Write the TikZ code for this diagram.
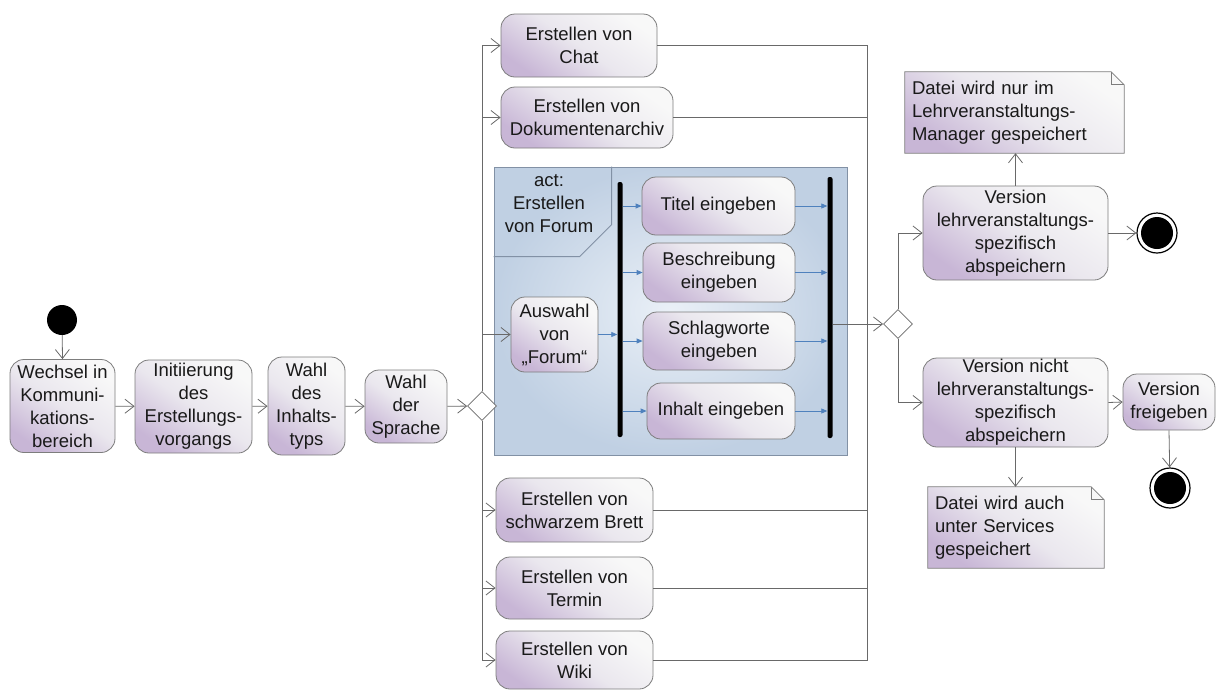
\documentclass[tikz,border=0pt]{standalone}
\usepackage{fontspec}
\setmainfont{Liberation Sans}
\usetikzlibrary{arrows.meta,shapes.geometric}

\definecolor{boxlo}{RGB}{200,182,214}
\definecolor{boxmid}{RGB}{234,231,238}
\definecolor{boxhi}{RGB}{248,248,248}
\definecolor{edge}{RGB}{125,125,125}
\definecolor{wire}{RGB}{105,105,105}
\definecolor{flow}{RGB}{79,129,189}
\definecolor{actin}{RGB}{234,240,247}
\definecolor{actout}{RGB}{192,208,227}
\definecolor{actedge}{RGB}{130,145,165}
\definecolor{ink}{RGB}{25,25,25}

\pgfdeclarelayer{background}
\pgfsetlayers{background,main}

\tikzset{
  txt/.style={text=ink, font=\fontsize{18.5pt}{23pt}\selectfont},
  action/.style={txt, draw=edge, line width=0.8pt, rounded corners=14pt,
    align=center, inner sep=0pt,
    left color=boxlo, right color=boxhi, middle color=boxmid, shading angle=145},
  notebody/.style={txt, align=left, inner xsep=7pt, inner ysep=0pt},
  noteshade/.style={draw=edge, line width=0.8pt,
    left color=boxlo, right color=boxhi, middle color=boxmid, shading angle=145},
  choice/.style={diamond, draw=wire, fill=white, line width=0.8pt,
    minimum width=29pt, minimum height=29pt, inner sep=0pt},
  startdot/.style={circle, fill=black, minimum size=30pt, inner sep=0pt},
  enddot/.style={circle, draw=black, fill=white, line width=1.2pt,
    minimum size=40pt, inner sep=0pt,
    path picture={\fill[black] (path picture bounding box.center) circle (16pt);}},
  syncbar/.style={fill=black, rounded corners=2pt, minimum width=5pt, inner sep=0pt},
  wirearrow/.style={draw=wire, line width=0.8pt, -{Straight Barb[length=9pt,width=14pt,line width=0.8pt]}},
  wireline/.style={draw=wire, line width=0.8pt},
  flowarrow/.style={draw=flow, line width=0.8pt, -{Triangle[length=6pt,width=5pt]}},
}

\begin{document}
\begin{tikzpicture}[x=1pt,y=-1pt]
  \useasboundingbox (0,0) rectangle (1216,689);

  % activity frame for the forum
  \node[draw=actedge, line width=0.8pt, shading=radial, inner color=actin, outer color=actout,
        minimum width=353pt, minimum height=288pt, inner sep=0pt] (act) at (670.5,311) {};
  \draw[actedge, line width=0.8pt] (act.north west) ++(118,0) -- ++(0,58) -- ++(-32,32) -- ++(-86,0);
  \node[txt, align=center] (actlabel) at (549,204) {act:\\Erstellen\\von Forum};

  % main sequence
  \node[startdot] (s) at (62,320) {};
  \node[action, minimum width=105pt, minimum height=93pt] (w1) at (62.5,406) {Wechsel in\\Kommuni-\\kations-\\bereich};
  \node[action, minimum width=117pt, minimum height=93pt] (w2) at (193.5,406.5) {Initiierung\\des\\Erstellungs-\\vorgangs};
  \node[action, minimum width=77pt, minimum height=98pt] (w3) at (306.5,406) {Wahl\\des\\Inhalts-\\typs};
  \node[action, minimum width=82pt, minimum height=73pt] (w4) at (406,406.5) {Wahl\\der\\Sprache};
  \node[choice] (d1) at (482,406) {};

  % content types
  \node[action, minimum width=156pt, minimum height=63pt] (chat) at (579,45.5) {Erstellen von\\Chat};
  \node[action, minimum width=172pt, minimum height=61pt] (dok) at (587,117.5) {Erstellen von\\Dokumentenarchiv};
  \node[action, minimum width=157pt, minimum height=64pt] (brett) at (574.5,510) {Erstellen von\\schwarzem Brett};
  \node[action, minimum width=157pt, minimum height=62pt] (termin) at (574.5,588) {Erstellen von\\Termin};
  \node[action, minimum width=157pt, minimum height=58pt] (wiki) at (574.5,660) {Erstellen von\\Wiki};

  % forum activity
  \node[action, minimum width=87pt, minimum height=75pt] (auswahl) at (554.5,334.5) {Auswahl\\von\\„Forum“};
  \node[syncbar, minimum height=255pt] (fork) at (620,309.5) {};
  \node[syncbar, minimum height=261pt] (join) at (830,307.5) {};
  \node[action, minimum width=153pt, minimum height=58pt] (titel) at (718.5,206) {Titel eingeben};
  \node[action, minimum width=152pt, minimum height=59pt] (beschr) at (719,272.5) {Beschreibung\\eingeben};
  \node[action, minimum width=152pt, minimum height=58pt] (schlag) at (719,341) {Schlagworte\\eingeben};
  \node[action, minimum width=148pt, minimum height=56pt] (inhalt) at (721,411) {Inhalt eingeben};

  % saving
  \coordinate (m) at (867,324);
  \node[choice] (d2) at (898,324) {};
  \node[action, minimum width=185pt, minimum height=94pt] (v1) at (1015.5,233) {Version\\lehrveranstaltungs-\\spezifisch\\abspeichern};
  \node[action, minimum width=185pt, minimum height=89pt] (v2) at (1015.5,402.5) {Version nicht\\lehrveranstaltungs-\\spezifisch\\abspeichern};
  \node[action, minimum width=92pt, minimum height=56pt] (frei) at (1169,402) {Version\\freigeben};
  \node[enddot] (e1) at (1157,233) {};
  \node[enddot] (e2) at (1170,488) {};

  % notes
  \node[notebody, text width=205pt, minimum height=81pt] (note1) at (1014.5,112.5)
    {Datei wird nur im\\Lehrveranstaltungs-\\Manager gespeichert};
  \node[notebody, text width=162pt, minimum height=81pt] (note2) at (1016,527.5)
    {Datei wird auch\\unter Services\\gespeichert};
  \begin{pgfonlayer}{background}
    \foreach \n in {note1,note2}{
      \path[noteshade] (\n.south west) -- (\n.north west) -- ([xshift=-13pt]\n.north east)
        -- ([yshift=-13pt]\n.north east) -- (\n.south east) -- cycle;
      \draw[edge, line width=0.8pt] ([xshift=-13pt]\n.north east) -- ++(0,13) -- ([yshift=-13pt]\n.north east);
    }
  \end{pgfonlayer}

  % connectors of the main sequence
  \draw[wirearrow] (s) -- (w1.north);
  \draw[wirearrow] (w1) -- (w2);
  \draw[wirearrow] (w2) -- (w3);
  \draw[wirearrow] (w3) -- (w4);
  \draw[wirearrow] (w4) -- (d1);

  % decision into the content types
  \draw[wirearrow] (d1.north) |- (chat.west);
  \draw[wirearrow] (d1.north) |- (dok.west);
  \draw[wirearrow] (d1.north) |- (auswahl.west);
  \draw[wirearrow] (d1.south) |- (brett.west);
  \draw[wirearrow] (d1.south) |- (termin.west);
  \draw[wirearrow] (d1.south) |- (wiki.west);

  % forum fork and join
  \draw[flowarrow] (auswahl.east) -- (auswahl.east -| fork.west);
  \foreach \t in {titel,beschr,schlag,inhalt}{
    \draw[flowarrow] (fork.east |- \t.west) -- (\t.west);
    \draw[flowarrow] (\t.east) -- (\t.east -| join.west);
  }

  % merge of all content types
  \foreach \t in {chat,dok,brett,termin,wiki}{
    \draw[wireline] (\t.east) -| (m);
  }
  \draw[wirearrow] (join.east |- d2.west) -- (d2.west);

  % saving variants
  \draw[wirearrow] (d2.north) |- (v1.west);
  \draw[wirearrow] (d2.south) |- (v2.west);
  \draw[wirearrow] (v1.north) -- (v1.north |- note1.south);
  \draw[wirearrow] (v1.east) -- (e1);
  \draw[wirearrow] (v2.south) -- (v2.south |- note2.north);
  \draw[wirearrow] (v2.east) -- (frei.west);
  \draw[wirearrow] (frei.south) -- (e2);
\end{tikzpicture}
\end{document}
